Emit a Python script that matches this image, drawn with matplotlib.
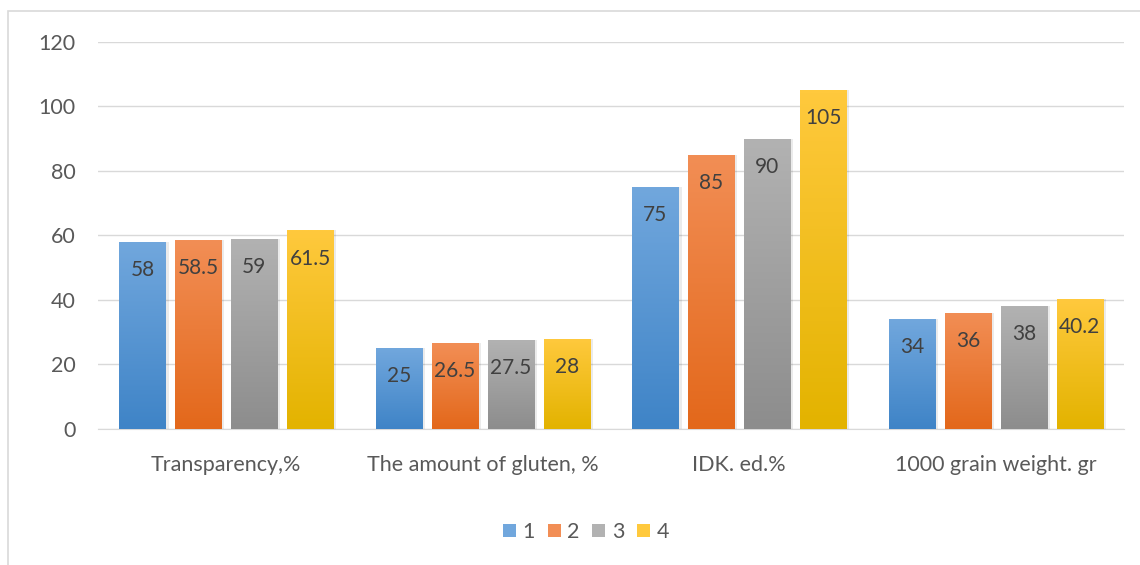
import numpy as np
import matplotlib.pyplot as plt
from matplotlib.colors import LinearSegmentedColormap
from matplotlib.patches import Rectangle

plt.rcParams['font.family'] = ['Lato', 'DejaVu Sans']

categories = ['Transparency,%', 'The amount of gluten, %', 'IDK. ed.%', '1000 grain weight. gr']
series_names = ['1', '2', '3', '4']
s1 = [58, 25, 75, 34]
s2 = [58.5, 26.5, 85, 36]
s3 = [59, 27.5, 90, 38]
s4 = [61.5, 28, 105, 40.2]
labels = [['58', '25', '75', '34'],
          ['58.5', '26.5', '85', '36'],
          ['59', '27.5', '90', '38'],
          ['61.5', '28', '105', '40.2']]
values = [s1, s2, s3, s4]

# top / bottom colours of the gradient fill
grads = [('#71a7dd', '#3f84c7'),
         ('#f28e55', '#e3681b'),
         ('#b2b2b2', '#8d8d8d'),
         ('#ffc93d', '#e3b300')]

fig = plt.figure(figsize=(11.4, 5.65), dpi=100)
ax = fig.add_axes([0.086, 0.241, 0.9, 0.685])

x = np.arange(len(categories))
w = 0.18
step = 0.218
txt = '#404040'
for i, vals in enumerate(values):
    pos = x + (i - 1.5) * step
    bars = ax.bar(pos, vals, width=w, color=grads[i][0], label=series_names[i], zorder=3)
    cmap = LinearSegmentedColormap.from_list('g%d' % i, [grads[i][1], grads[i][0]])
    for b, lab in zip(bars, labels[i]):
        bx, bw, bh = b.get_x(), b.get_width(), b.get_height()
        # soft shadow
        ax.add_patch(Rectangle((bx + 0.012, 0), bw, bh, color='#000000', alpha=0.08, zorder=2, lw=0))
        im = ax.imshow(np.linspace(0, 1, 100).reshape(-1, 1), cmap=cmap, origin='lower',
                       extent=[bx, bx + bw, 0, bh], aspect='auto', zorder=3.5)
        im.set_clip_path(b)
        ax.text(bx + bw / 2, bh - 8.7, lab, ha='center', va='center', fontsize=15, color=txt, zorder=5)

ax.set_xlim(-0.5, 3.5)
ax.set_ylim(0, 120)
ax.set_yticks(range(0, 121, 20))
ax.set_xticks(x)
ax.set_xticklabels(categories)
ax.grid(axis='y', color='#d9d9d9', lw=1, zorder=0)
for s in ['top', 'right', 'left']:
    ax.spines[s].set_visible(False)
ax.spines['bottom'].set_color('#d9d9d9')
ax.tick_params(axis='both', length=0, labelsize=15.5, labelcolor='#595959')
ax.tick_params(axis='y', pad=16)
ax.tick_params(axis='x', pad=19)

leg = fig.legend(loc='center', bbox_to_anchor=(0.514, 0.058), ncol=4, frameon=False,
                 fontsize=15.5, handlelength=0.6, handleheight=0.6, handletextpad=0.3,
                 columnspacing=0.6, labelcolor='#595959')

fig.patches.append(Rectangle((0.007, -0.01), 1.1, 0.99, transform=fig.transFigure,
                             fill=False, ec='#d9d9d9', lw=1.2))
fig.savefig('out.png', dpi=100)
